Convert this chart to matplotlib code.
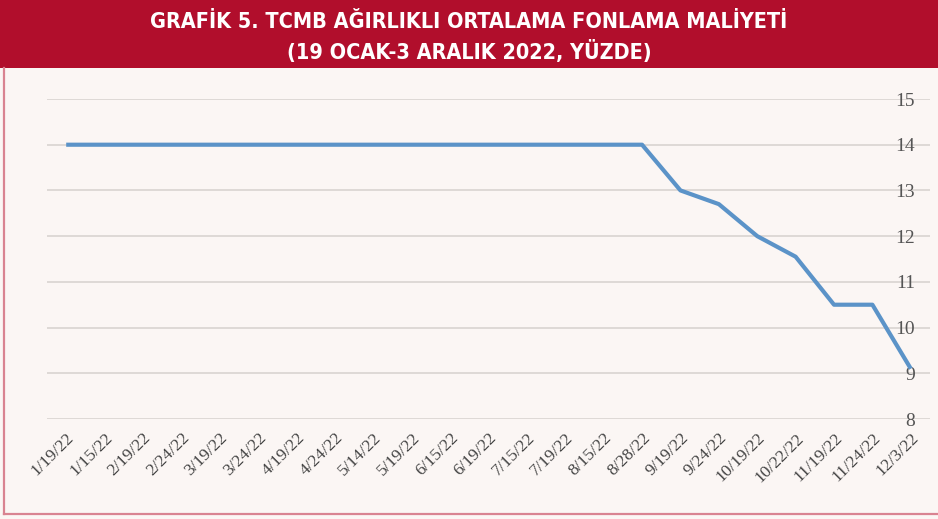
import matplotlib.pyplot as plt
from matplotlib.patches import Rectangle

# Data
dates = ['1/19/22', '1/15/22', '2/19/22', '2/24/22', '3/19/22', '3/24/22',
         '4/19/22', '4/24/22', '5/14/22', '5/19/22', '6/15/22', '6/19/22',
         '7/15/22', '7/19/22', '8/15/22', '8/28/22', '9/19/22', '9/24/22',
         '10/19/22', '10/22/22', '11/19/22', '11/24/22', '12/3/22']
rate = [14, 14, 14, 14, 14, 14, 14, 14, 14, 14, 14, 14,
        14, 14, 14, 14, 13, 12.7, 12, 11.55, 10.5, 10.5, 9.1]
yticks = [8, 9, 10, 11, 12, 13, 14, 15]

bg = '#FBF6F4'
red = '#B10E2C'

fig = plt.figure(figsize=(9.38, 5.19), dpi=100, facecolor=bg)

# title bar
fig.patches.append(Rectangle((0, 1 - 68 / 519), 1, 68 / 519, transform=fig.transFigure,
                             facecolor=red, edgecolor='none', zorder=0))
# outer border (left and bottom)
fig.add_artist(plt.Line2D([3.5 / 938, 3.5 / 938], [5 / 519, 1 - 68 / 519],
                          transform=fig.transFigure, color='#D98391', lw=1.6))
fig.add_artist(plt.Line2D([3.5 / 938, 1], [5 / 519, 5 / 519],
                          transform=fig.transFigure, color='#D98391', lw=1.6))

title_font = dict(ha='center', va='center', color='white', fontsize=15.5,
                  fontweight='bold', family='DejaVu Sans', fontstretch='condensed')
fig.text(0.5, 1 - 22 / 519, 'GRAFİK 5. TCMB AĞIRLIKLI ORTALAMA FONLAMA MALİYETİ', **title_font)
fig.text(0.5, 1 - 52 / 519, '(19 OCAK-3 ARALIK 2022, YÜZDE)', **title_font)

ax = fig.add_axes([47 / 938, 1 - 419 / 519, (930 - 47) / 938, (419 - 99) / 519])
ax.set_facecolor(bg)
x = list(range(len(dates)))
ax.plot(x, rate, color='#5B93C8', lw=3, solid_capstyle='butt', zorder=3)

ax.set_xlim(-0.5, len(dates) - 0.5)
ax.set_ylim(8, 15)
ax.set_yticks(yticks)
ax.grid(axis='y', color='#D9D4D1', lw=1.2)
ax.set_axisbelow(True)
for s in ax.spines.values():
    s.set_visible(False)

ax.yaxis.tick_right()
ax.tick_params(axis='y', length=0, pad=-11, labelsize=14, labelcolor='#555555')
for lab in ax.get_yticklabels():
    lab.set_ha('right')
    lab.set_family('Liberation Serif')

ax.set_xticks(x)
ax.set_xticklabels(dates, rotation=45, ha='right', rotation_mode='anchor',
                   family='Liberation Serif', fontsize=12.5, color='#444444')
ax.tick_params(axis='x', length=0, pad=8)

fig.savefig('out.png', dpi=100, facecolor=bg)
